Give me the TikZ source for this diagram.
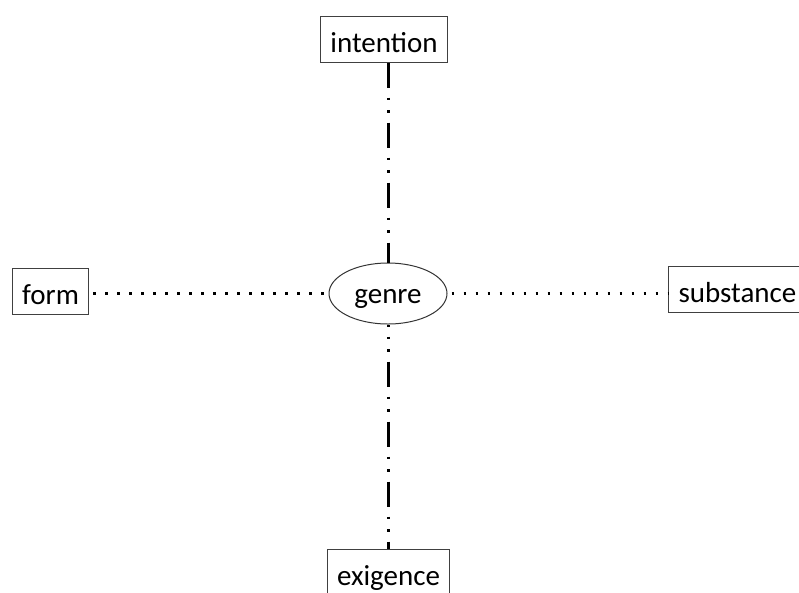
\documentclass[tikz,border=0pt]{standalone}
\usepackage{fontspec}
\setmainfont{Carlito}
\usetikzlibrary{shapes.geometric}
\begin{document}
\begin{tikzpicture}[x=1pt,y=-1pt,
  term/.style={draw=black!75, line width=1pt, fill=white, inner xsep=10pt, inner ysep=0pt,
    text height=36pt, text depth=10pt, font=\fontsize{29}{34}\selectfont},
  hub/.style={draw=black!80, line width=1pt, ellipse, minimum width=118pt,
    minimum height=61pt, inner sep=0pt, text height=21pt, text depth=2pt,
    font=\fontsize{29}{34}\selectfont},
  dotline/.style={line width=2.8pt, dash pattern=on 2.8pt off 9.2pt, dash phase=8pt},
  dashdotdot/.style={line width=3pt, dash pattern=on 25pt off 10pt on 2.8pt off 10pt on 2.8pt off 9.4pt}
]
\useasboundingbox (0,0) rectangle (799,592);

\node[term] (intention) at (384,39) {intention};
\node[term] (form) at (50.5,291) {form};
\node[hub] (genre) at (388,293.5) {genre};
\node[term, anchor=west] (substance) at (668,289) {substance};
\node[term, anchor=north] (exigence) at (388.5,549) {exigence};

% vertical axis: intention -- genre -- exigence
\draw[dashdotdot, dash phase=0pt] (genre.north |- intention.south) -- (genre.north);
\draw[dashdotdot, dash phase=23pt] (genre.south) -- (genre.south |- exigence.north);

% horizontal axis: form -- genre -- substance
\draw[dotline] (form.east |- genre.west) -- (genre.west);
\draw[dotline] (genre.east) -- (substance.west |- genre.east);
\end{tikzpicture}
\end{document}
